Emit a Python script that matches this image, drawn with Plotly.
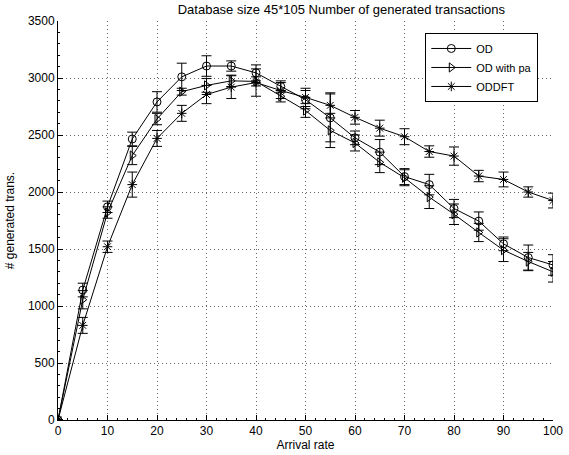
import plotly.graph_objects as go

# Arrival rates (x axis)
arrival_rate = [0, 5, 10, 15, 20, 25, 30, 35, 40, 45, 50, 55, 60, 65, 70, 75, 80, 85, 90, 95, 100]

# Mean number of generated transactions per method
od = [0, 1140, 1870, 2465, 2790, 3010, 3105, 3105, 3045, 2925, 2810, 2650, 2475, 2350, 2135, 2065, 1855, 1745, 1545, 1425, 1360]
od_pa = [0, 1055, 1820, 2320, 2640, 2880, 2935, 2975, 2970, 2840, 2715, 2540, 2430, 2260, 2125, 1955, 1805, 1645, 1490, 1390, 1300]
oddft = [0, 830, 1520, 2065, 2470, 2690, 2855, 2920, 2960, 2890, 2830, 2760, 2655, 2560, 2485, 2355, 2315, 2140, 2110, 2000, 1925]

# Half-widths of the error bars
od_err = [0, 60, 50, 60, 90, 120, 90, 45, 70, 50, 80, 210, 60, 110, 70, 90, 80, 80, 60, 110, 90]
od_pa_err = [0, 80, 50, 80, 50, 30, 60, 50, 40, 50, 60, 150, 70, 90, 70, 100, 90, 80, 100, 80, 90]
oddft_err = [0, 70, 50, 110, 70, 70, 80, 100, 120, 70, 80, 110, 60, 70, 70, 50, 80, 50, 65, 45, 65]

series = [
    ("OD", od, od_err, "circle-open"),
    ("OD with pa", od_pa, od_pa_err, "triangle-right-open"),
    ("ODDFT", oddft, oddft_err, "asterisk-open"),
]

FONT = "Liberation Sans, Arial, Helvetica, sans-serif"
TXT = dict(family=FONT, size=12, color="black")

fig = go.Figure()
for name, vals, errs, sym in series:
    fig.add_trace(go.Scatter(
        x=arrival_rate, y=vals, name=name, mode="lines+markers",
        line=dict(color="black", width=1),
        marker=dict(symbol=sym, size=8, color="black", line=dict(color="black", width=1)),
        error_y=dict(type="data", array=errs, visible=True, color="black", thickness=1, width=5),
    ))

axis_common = dict(
    showline=True, linecolor="black", linewidth=1,
    ticks="inside", ticklen=5, tickcolor="black",
    showgrid=True, gridcolor="#666666", griddash="1px,3px", gridwidth=1,
    zeroline=False, mirror=False, automargin=False,
    tickfont=TXT,
)

fig.update_xaxes(
    range=[0, 100], tickmode="array", tickvals=list(range(0, 101, 10)),
    title=dict(text="Arrival rate", font=TXT, standoff=2),
    minor=dict(ticks="inside", ticklen=2, dtick=2, tickcolor="black", showgrid=False),
    **axis_common,
)
fig.update_yaxes(
    range=[0, 3500], tickmode="array", tickvals=list(range(0, 3501, 500)),
    title=dict(text="# generated trans.", font=TXT, standoff=10),
    minor=dict(ticks="inside", ticklen=2, dtick=100, tickcolor="black", showgrid=False),
    **axis_common,
)

fig.update_layout(
    width=569, height=455,
    margin=dict(l=58, r=16, t=21, b=35, autoexpand=False),
    paper_bgcolor="white", plot_bgcolor="white",
    font=TXT,
    title=dict(text="Database size 45*105 Number of generated transactions",
               x=0.6, xanchor="center", y=0.99, yanchor="top",
               font=dict(family=FONT, size=13, color="black")),
    showlegend=True,
    legend=dict(x=0.742, y=0.97, xanchor="left", yanchor="top",
                bgcolor="white", bordercolor="black", borderwidth=1,
                font=dict(family=FONT, size=11, color="black"),
                tracegroupgap=0, itemwidth=40),
)

fig.write_html("out.html")
